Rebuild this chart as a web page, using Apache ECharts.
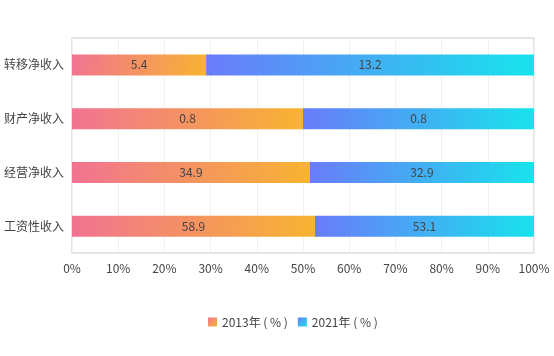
<!DOCTYPE html>
<html><head><meta charset="utf-8">
<script src="https://cdn.jsdelivr.net/npm/echarts@6/dist/echarts.min.js"></script>
<style>html,body{margin:0;padding:0;background:#fff}#c{width:554px;height:356px}</style>
</head><body><div id="c"></div>
<script>
const categories = ['工资性收入', '经营净收入', '财产净收入', '转移净收入'];
const values2013 = [58.9, 34.9, 0.8, 5.4];
const values2021 = [53.1, 32.9, 0.8, 13.2];
const seriesNames = ['2013年 ( % )', '2021年 ( % )'];

const share = (a, b) => a.map((v, i) => v / (v + b[i]) * 100);
const p2013 = share(values2013, values2021);
const p2021 = share(values2021, values2013);

const g1 = new echarts.graphic.LinearGradient(0, 0, 1, 1, [{offset: 0, color: '#f17392'}, {offset: 1, color: '#f8b430'}]);
const g2 = new echarts.graphic.LinearGradient(0, 0, 1, 1, [{offset: 0, color: '#6a7bfa'}, {offset: 1, color: '#18e3ec'}]);
const font = '"Noto Sans CJK SC", "Noto Sans", sans-serif';

const chart = echarts.init(document.getElementById('c'));
chart.setOption({
  animation: false,
  textStyle: {fontFamily: font},
  legend: {
    bottom: 23, left: 203, itemWidth: 9, itemHeight: 9, itemGap: 10, icon: 'rect',
    textStyle: {color: '#444', fontSize: 12, fontFamily: font},
    data: seriesNames
  },
  grid: {left: 72, right: 20, top: 38, bottom: 103, show: true, borderColor: '#ddd', borderWidth: 1.5},
  xAxis: {
    type: 'value', min: 0, max: 100, interval: 10,
    axisLabel: {formatter: '{value}%', color: '#444', fontSize: 12, margin: 9},
    axisLine: {show: false}, axisTick: {show: false},
    splitLine: {lineStyle: {color: '#f0f0f0'}}
  },
  yAxis: {
    type: 'category', data: categories,
    axisLabel: {color: '#444', fontSize: 12, margin: 8},
    axisLine: {show: false}, axisTick: {show: false}
  },
  series: [
    {name: seriesNames[0], type: 'bar', stack: 't', barWidth: 21,
     data: p2013,
     itemStyle: {color: g1},
     label: {show: true, position: 'inside', color: '#444', fontSize: 12,
       formatter: p => values2013[p.dataIndex]}},
    {name: seriesNames[1], type: 'bar', stack: 't', barWidth: 21,
     data: p2021,
     itemStyle: {color: g2},
     label: {show: true, position: 'inside', color: '#444', fontSize: 12,
       formatter: p => values2021[p.dataIndex]}}
  ]
});
</script></body></html>
